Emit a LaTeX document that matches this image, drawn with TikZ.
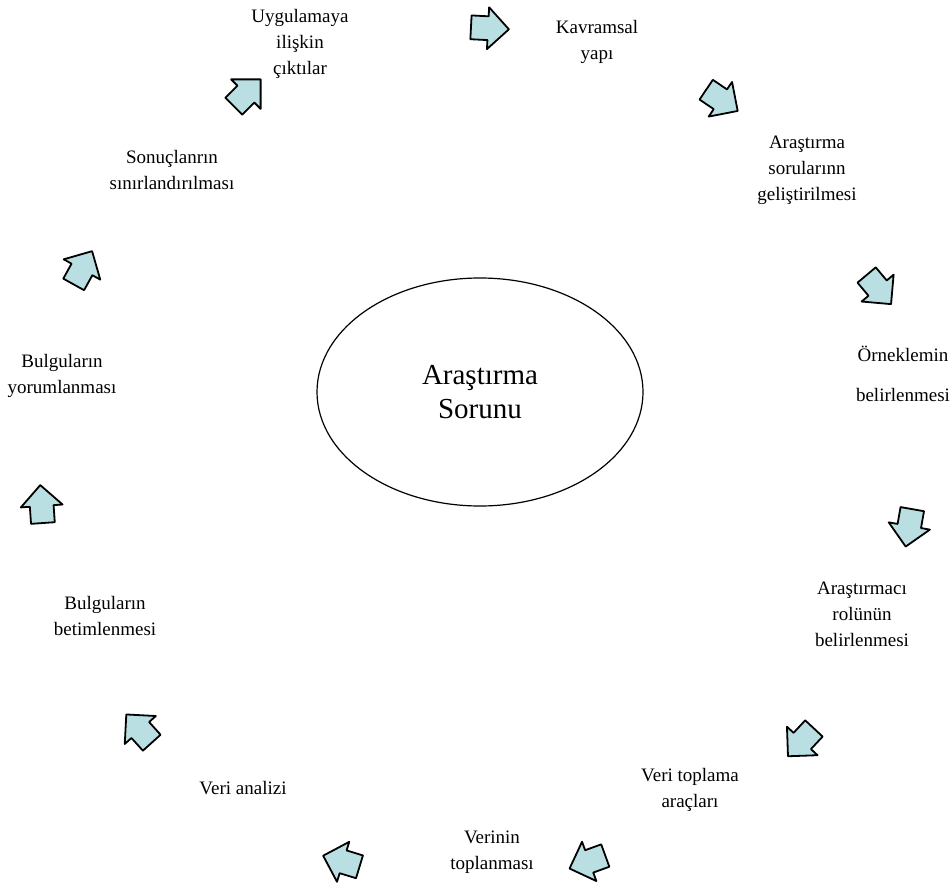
\documentclass[tikz,border=0pt]{standalone}
\usepackage{fontspec}
\setmainfont{Liberation Serif}
\usetikzlibrary{shapes.arrows,shapes.geometric}
\definecolor{okrengi}{RGB}{185,223,227}
\begin{document}
\begin{tikzpicture}[x=0.5pt,y=-0.5pt,line join=round,
    adim/.style={font=\fontsize{9.5}{13}\selectfont,align=center,inner sep=0pt},
    ok/.style={single arrow,draw=black,line width=0.9pt,fill=okrengi,
      minimum height=19pt,single arrow head extend=4.5pt,
      inner xsep=0pt,inner ysep=5.5pt,text width=0pt}]
    \useasboundingbox (0,0) rectangle (952,893);
    \node[ellipse,draw,line width=0.6pt,minimum width=163pt,
      minimum height=114pt,align=center,font=\fontsize{14.5}{17}\selectfont] (sorun) at (480,392) {Araştırma\\Sorunu};
    % adimlar
    \node[adim] (uyg) at (300,44) {Uygulamaya\\ilişkin\\çıktılar};
    \node[adim] (kavram) at (597,42) {Kavramsal\\yapı};
    \node[adim] (sorular) at (807,170) {Araştırma\\sorularınn\\geliştirilmesi};
    \node[adim] (orneklem) at (903,374) {Örneklemin\\[7pt]belirlenmesi};
    \node[adim] (rol) at (862,614) {Araştırmacı\\rolünün\\belirlenmesi};
    \node[adim] (araclar) at (690,790) {Veri toplama\\araçları};
    \node[adim] (toplanma) at (492,852) {Verinin\\toplanması};
    \node[adim] (analiz) at (243,788) {Veri analizi};
    \node[adim] (betim) at (105,616) {Bulguların\\betimlenmesi};
    \node[adim] (yorum) at (62,376) {Bulguların\\yorumlanması};
    \node[adim] (sinir) at (172,170) {Sonuçlanrın\\sınırlandırılması};
    % oklar
    \node[ok,rotate=-3] (a1) at (484,28) {};
    \node[ok,rotate=-34] (a2) at (717,97) {};
    \node[ok,rotate=-50] (a3) at (875,285) {};
    \node[ok,rotate=-100] (a4) at (910,522) {};
    \node[ok,rotate=-133] (a5) at (805,738) {};
    \node[ok,rotate=200] (a6) at (593,860) {};
    \node[ok,rotate=163] (a7) at (347,863) {};
    \node[ok,rotate=132] (a8) at (143,733) {};
    \node[ok,rotate=94] (a9) at (42,510) {};
    \node[ok,rotate=61] (a10) at (80,273) {};
    \node[ok,rotate=45] (a11) at (243,97) {};
\end{tikzpicture}
\end{document}
